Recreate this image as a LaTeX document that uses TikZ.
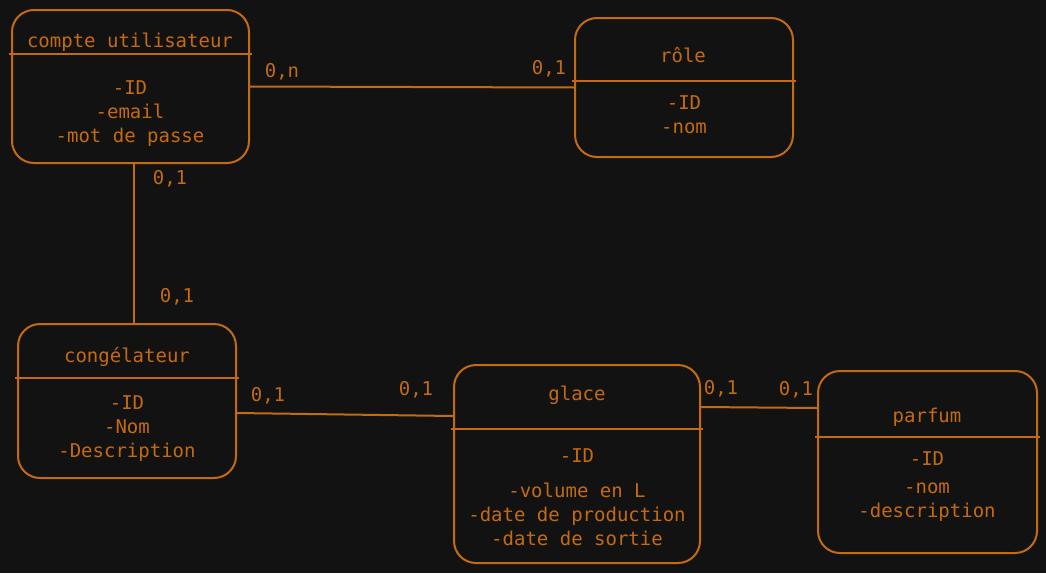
\documentclass[tikz,border=0pt]{standalone}
\usepackage{fontspec}
\setmonofont{DejaVu Sans Mono}
\usetikzlibrary{positioning,calc}
\definecolor{bgdark}{HTML}{121212}
\definecolor{ink}{HTML}{C46A12}

\begin{document}
\begin{tikzpicture}[x=1pt,y=-1pt,
    entity/.style={draw=ink, line width=2pt, rounded corners=22pt, inner sep=0pt},
    txt/.style={text=ink, font=\ttfamily\fontsize{19}{24}\selectfont, align=center, inner sep=0pt, yshift=-2pt},
    link/.style={draw=ink, line width=2pt}]
  \fill[bgdark] (0,0) rectangle (1046,573);
  \useasboundingbox (0,0) rectangle (1046,573);

  % compte utilisateur
  \node[entity, minimum width=237pt, minimum height=153pt] (compte) at (130.5,86.5) {};
  \draw[link] ([xshift=-2pt,yshift=-45pt]compte.north west) -- ([xshift=2pt,yshift=-45pt]compte.north east);
  \node[txt] (compteT) at (130,40) {compte utilisateur};
  \node[txt] (compteA) at (130,112) {-ID\\-email\\-mot de passe};

  % role
  \node[entity, minimum width=218pt, minimum height=139pt] (role) at (684,87.5) {};
  \draw[link] ([xshift=-2pt,yshift=-64pt]role.north west) -- ([xshift=2pt,yshift=-64pt]role.north east);
  \node[txt] (roleT) at (683,53) {rôle};
  \node[txt] (roleA) at (684,113) {-ID\\-nom};

  % congelateur
  \node[entity, minimum width=218pt, minimum height=154pt] (conge) at (127,401) {};
  \draw[link] ([xshift=-2pt,yshift=-55pt]conge.north west) -- ([xshift=2pt,yshift=-55pt]conge.north east);
  \node[txt] (congeT) at (127,355) {congélateur};
  \node[txt] (congeA) at (127,427) {-ID\\-Nom\\-Description};

  % glace
  \node[entity, minimum width=246pt, minimum height=198pt] (glace) at (577,464) {};
  \draw[link] ([xshift=-2pt,yshift=-65pt]glace.north west) -- ([xshift=2pt,yshift=-65pt]glace.north east);
  \node[txt] (glaceT) at (577,393) {glace};
  \node[txt] (glaceA) at (577,495.5) {-ID\\[11pt]-volume en L\\-date de production\\-date de sortie};

  % parfum
  \node[entity, minimum width=219pt, minimum height=182pt] (parfum) at (927.5,462) {};
  \draw[link] ([xshift=-2pt,yshift=-67pt]parfum.north west) -- ([xshift=2pt,yshift=-67pt]parfum.north east);
  \node[txt] (parfumT) at (927,415) {parfum};
  \node[txt] (parfumA) at (927,485) {-ID\\[4pt]-nom\\-description};

  % liens
  \draw[link] (compte.east) -- (role.west);
  \draw[link] ([xshift=3.5pt]compte.south) -- ([xshift=3.5pt]compte.south |- conge.north);
  \draw[link] ([yshift=-12pt]conge.east) -- ([yshift=48pt]glace.west);
  \draw[link] ([yshift=57pt]glace.east) -- ([yshift=54pt]parfum.west);

  % cardinalites
  \node[txt] (cardA) at (282,70) {0,n};
  \node[txt] (cardB) at (549,67) {0,1};
  \node[txt] (cardC) at (170,177) {0,1};
  \node[txt] (cardD) at (177,295) {0,1};
  \node[txt] (cardE) at (268,394) {0,1};
  \node[txt] (cardF) at (416,388) {0,1};
  \node[txt] (cardG) at (721,387) {0,1};
  \node[txt] (cardH) at (796,388) {0,1};
\end{tikzpicture}
\end{document}
